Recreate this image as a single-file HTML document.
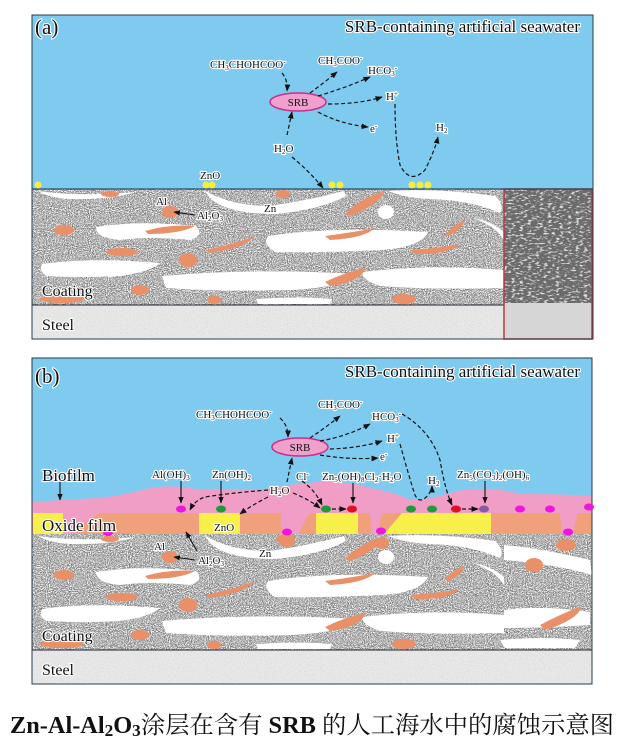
<!DOCTYPE html>
<html><head><meta charset="utf-8">
<style>
html,body{margin:0;padding:0;background:#fff;}
svg{display:block;}
.t{font-family:"Liberation Serif",serif;fill:#111;stroke:#fff;stroke-width:2.2px;paint-order:stroke;stroke-linejoin:round;}
.s{font-size:11px;}
.d{fill:none;stroke:#111;stroke-width:1.2;stroke-dasharray:4 2.5;marker-end:url(#ah);}
.a{fill:none;stroke:#111;stroke-width:1.1;marker-end:url(#ah);}
</style></head><body>
<svg width="624" height="739" viewBox="0 0 624 739" xmlns="http://www.w3.org/2000/svg">
<defs>
<marker id="ah" viewBox="0 0 10 10" refX="9" refY="5" markerWidth="6" markerHeight="6" orient="auto"><path d="M0,1 L10,5 L0,9 z" fill="#111"/></marker>
<filter id="dk" x="0" y="0" width="100%" height="100%">
<feTurbulence type="fractalNoise" baseFrequency="0.95" numOctaves="2" seed="3"/>
<feColorMatrix type="matrix" values="0 0 0 0 0.15  0 0 0 0 0.15  0 0 0 0 0.15  5 0 0 0 -2.3"/>
</filter>
<filter id="lt" x="0" y="0" width="100%" height="100%">
<feTurbulence type="fractalNoise" baseFrequency="0.95" numOctaves="2" seed="11"/>
<feColorMatrix type="matrix" values="0 0 0 0 1  0 0 0 0 1  0 0 0 0 1  5 0 0 0 -2.3"/>
</filter>
<filter id="gs" x="0" y="0" width="100%" height="100%">
<feTurbulence type="fractalNoise" baseFrequency="0.7" numOctaves="2" seed="8"/>
<feColorMatrix type="matrix" values="0 0 0 0 0.6  0 0 0 0 0.6  0 0 0 0 0.6  2 0 0 0 -0.8"/>
</filter>
<filter id="ins" x="0" y="0" width="100%" height="100%">
<feTurbulence type="fractalNoise" baseFrequency="0.25 0.6" numOctaves="2" seed="2"/>
<feColorMatrix type="matrix" values="0 0 0 0 1  0 0 0 0 1  0 0 0 0 1  5 0 0 0 -2.6"/>
</filter>
<g id="blobs">
<g fill="#fff">
<path d="M38,191 Q80,197 136,192 Q110,200 70,199 Q50,198 38,191z"/>
<path d="M204,190 Q230,206 270,206 Q310,200 344,191 L346,196 Q320,210 275,214 Q230,214 212,200z"/>
<path d="M388,191 Q440,188 495,196 Q505,205 500,213 Q470,200 430,199 Q405,198 388,191z"/>
<path d="M96,227 Q140,220 196,226 Q205,235 190,240 Q150,236 120,240 Q96,238 96,227z"/>
<path d="M268,236 Q330,226 428,232 Q420,248 380,250 Q320,253 275,252 Q262,244 268,236z"/>
<path d="M42,264 Q90,257 160,263 Q150,272 120,276 Q80,278 46,276 Q38,270 42,264z"/>
<path d="M162,276 Q250,268 358,274 Q340,288 290,290 Q220,292 166,288z"/>
<path d="M362,272 Q430,264 504,270 L504,288 Q440,290 380,286 Q362,280 362,272z"/>
<path d="M256,299 Q300,296 332,299 L330,304 L258,304z"/>
<ellipse cx="386" cy="212" rx="8" ry="7"/>
<path d="M472,218 Q495,225 504,240 L504,232 Q490,220 472,218z"/>
</g>
<g fill="#ea9068">
<ellipse cx="110" cy="194" rx="9" ry="3"/>
<ellipse cx="283" cy="194" rx="7" ry="4"/>
<path d="M345,214 Q360,198 385,191 Q378,205 350,216z"/>
<ellipse cx="170" cy="212" rx="8" ry="6"/>
<ellipse cx="64" cy="230" rx="10" ry="5"/>
<path d="M145,231 Q170,224 195,226 Q180,234 148,234z"/>
<path d="M205,250 Q235,244 255,236 Q245,248 210,253z"/>
<ellipse cx="122" cy="252" rx="16" ry="4"/>
<ellipse cx="188" cy="260" rx="9" ry="7"/>
<path d="M325,236 Q355,232 375,228 Q365,238 330,240z"/>
<path d="M445,234 Q455,224 465,220 Q462,230 448,236z"/>
<path d="M410,250 Q440,248 460,244 Q448,255 415,254z"/>
<path d="M325,282 Q345,272 366,268 Q360,282 330,286z"/>
<ellipse cx="140" cy="290" rx="9" ry="5"/>
<ellipse cx="62" cy="299" rx="22" ry="4"/>
<ellipse cx="214" cy="300" rx="7" ry="4"/>
<ellipse cx="404" cy="299" rx="12" ry="5"/>
</g>
</g>
</defs>

<!-- PANEL A -->
<rect x="32" y="15" width="561" height="174" fill="#7fcbf0"/>
<rect x="32" y="189" width="472" height="116" fill="#a2a2a2"/>
<rect x="32" y="189" width="472" height="116" filter="url(#dk)"/>
<rect x="32" y="189" width="472" height="116" filter="url(#lt)"/>
<use href="#blobs"/>
<rect x="32" y="305" width="472" height="34" fill="#e9e9e9"/>
<rect x="32" y="305" width="472" height="34" filter="url(#gs)" opacity="0.5"/>
<line x1="32" y1="305" x2="504" y2="305" stroke="#223" stroke-width="1"/>
<rect x="504" y="189" width="88" height="116" fill="#6a6a6a"/>
<rect x="504" y="189" width="88" height="116" filter="url(#ins)" opacity="0.8"/>
<rect x="504" y="303" width="88" height="36" fill="#d6d6d6"/>
<rect x="504" y="189" width="88" height="150" fill="none" stroke="#b8383f" stroke-width="1.5"/>
<line x1="32" y1="189" x2="593" y2="189" stroke="#2a4a6a" stroke-width="1.2"/>
<rect x="32" y="15" width="561" height="324" fill="none" stroke="#2a3a4a" stroke-width="1"/>
<g fill="#f4ee3c">
<circle cx="38" cy="185" r="3.5"/><circle cx="206" cy="185" r="3.5"/><circle cx="212" cy="185" r="3.5"/>
<circle cx="332" cy="185" r="3.5"/><circle cx="340" cy="185" r="3.5"/>
<circle cx="412" cy="185" r="3.5"/><circle cx="420" cy="185" r="3.5"/><circle cx="428" cy="185" r="3.5"/>
</g>
<text class="t" x="35" y="34" font-size="21">(a)</text>
<text class="t" x="580" y="32" text-anchor="end" font-size="17">SRB-containing artificial seawater</text>
<ellipse cx="298" cy="102" rx="28" ry="9" fill="#f0a0cc" stroke="#c8308a" stroke-width="1.5"/>
<text class="t s" x="298" y="106" text-anchor="middle" style="stroke:none">SRB</text>
<text class="t s" x="210" y="68">CH<tspan font-size="7" dy="2">3</tspan><tspan dy="-2">CHOHCOO</tspan><tspan font-size="7" dy="-4">-</tspan></text>
<text class="t s" x="318" y="64">CH<tspan font-size="7" dy="2">3</tspan><tspan dy="-2">COO</tspan><tspan font-size="7" dy="-4">-</tspan></text>
<text class="t s" x="368" y="74">HCO<tspan font-size="7" dy="2">3</tspan><tspan font-size="7" dy="-6">-</tspan></text>
<text class="t s" x="386" y="100">H<tspan font-size="7" dy="-4">+</tspan></text>
<text class="t s" x="370" y="132">e<tspan font-size="7" dy="-4">-</tspan></text>
<text class="t s" x="436" y="131">H<tspan font-size="7" dy="2">2</tspan></text>
<text class="t s" x="274" y="152">H<tspan font-size="7" dy="2">2</tspan><tspan dy="-2">O</tspan></text>
<text class="t s" x="200" y="179">ZnO</text>
<text class="t s" x="156" y="205">Al</text>
<text class="t s" x="197" y="219">Al<tspan font-size="7" dy="2">2</tspan><tspan dy="-2">O</tspan><tspan font-size="7" dy="2">3</tspan></text>
<text class="t s" x="264" y="212">Zn</text>
<text class="t" x="42" y="296" font-size="16">Coating</text>
<text class="t" x="42" y="330" font-size="16">Steel</text>
<path class="a" d="M195,215 L174,212"/>
<path class="d" d="M282,73 Q288,80 287,91"/>
<path class="d" d="M310,93 Q325,82 337,72"/>
<path class="d" d="M318,96 Q345,88 370,77"/>
<path class="d" d="M328,104 Q360,104 382,97"/>
<path class="d" d="M318,112 Q340,124 368,127"/>
<path class="d" d="M287,135 L292,112"/>
<path class="d" d="M292,157 Q310,172 323,188"/>
<path class="d" d="M395,104 Q395,140 400,165 Q410,185 425,170 Q435,150 438,137"/>

<!-- PANEL B -->
<rect x="32" y="358" width="560" height="155" fill="#7fcbf0"/>
<path d="M32,502 Q60,500 100,498 Q130,494 150,488 Q175,484 200,490 Q230,488 260,490 Q290,484 320,482 Q350,481 370,488 Q395,492 410,500 Q425,500 440,496 Q465,488 480,489 Q500,488 520,494 Q560,494 592,496 L592,513 L32,513z" fill="#f09ec6"/>
<rect x="32" y="513" width="560" height="21" fill="#f0a07a"/>
<g fill="#f7ef4a">
<rect x="33" y="513" width="30" height="21"/>
<rect x="199" y="513" width="41" height="21"/>
<rect x="316" y="513" width="42" height="21"/>
<path d="M402,513 L491,513 L491,534 L384,534z"/>
</g>
<g fill="#f09ec6">
<path d="M63,513 L100,513 Q85,520 75,534 L63,534z"/>
<path d="M282,513 L310,513 Q302,525 296,540 L285,540 Q278,525 282,513z"/>
<path d="M370,513 L382,513 Q378,525 380,540 L372,540z"/>
<path d="M560,513 L578,513 Q574,525 572,540 L562,540z"/>
</g>
<rect x="32" y="534" width="560" height="116" fill="#a2a2a2"/>
<rect x="32" y="534" width="560" height="116" filter="url(#dk)"/>
<rect x="32" y="534" width="560" height="116" filter="url(#lt)"/>
<use href="#blobs" transform="translate(0,345)"/>
<g fill="#fff">
<path d="M504,545 Q540,548 590,560 L592,575 Q560,565 504,560z"/>
<path d="M504,610 Q545,605 590,612 L590,625 Q545,628 504,628z"/>
<path d="M500,640 Q540,636 580,640 L575,648 L505,648z"/>
</g>
<g fill="#ea9068">
<ellipse cx="534" cy="565" rx="9" ry="7"/>
<ellipse cx="566" cy="545" rx="10" ry="6"/>
<path d="M540,625 Q565,612 582,606 Q578,620 545,630z"/>
<ellipse cx="287" cy="540" rx="8" ry="7"/>
<ellipse cx="382" cy="543" rx="7" ry="6"/>
</g>
<rect x="32" y="650" width="560" height="34" fill="#e9e9e9"/>
<rect x="32" y="650" width="560" height="34" filter="url(#gs)" opacity="0.5"/>
<line x1="32" y1="650" x2="592" y2="650" stroke="#223" stroke-width="1"/>
<rect x="32" y="358" width="560" height="326" fill="none" stroke="#2a3a4a" stroke-width="1"/>
<g>
<ellipse cx="181" cy="509" rx="5" ry="3.5" fill="#f014e0"/>
<ellipse cx="221" cy="509" rx="5" ry="3.5" fill="#1e9a3a"/>
<ellipse cx="326" cy="509" rx="5" ry="3.5" fill="#1e9a3a"/>
<ellipse cx="352" cy="509" rx="5" ry="3.5" fill="#e01020"/>
<ellipse cx="411" cy="509" rx="5" ry="3.5" fill="#1e9a3a"/>
<ellipse cx="432" cy="509" rx="5" ry="3.5" fill="#1e9a3a"/>
<ellipse cx="456" cy="509" rx="5" ry="3.5" fill="#e01020"/>
<ellipse cx="484" cy="509" rx="5" ry="3.5" fill="#8a5aa8"/>
<ellipse cx="520" cy="509" rx="5" ry="3.5" fill="#f014e0"/>
<ellipse cx="550" cy="509" rx="5" ry="3.5" fill="#f014e0"/>
<ellipse cx="589" cy="507" rx="5" ry="3.5" fill="#f014e0"/>
<ellipse cx="287" cy="532" rx="5" ry="3.5" fill="#f014e0"/>
<ellipse cx="381" cy="531" rx="5" ry="3.5" fill="#f014e0"/>
<ellipse cx="568" cy="532" rx="5" ry="3.5" fill="#f014e0"/>
<ellipse cx="108" cy="533" rx="5" ry="3" fill="#f014e0"/>
</g>
<text class="t" x="35" y="383" font-size="21">(b)</text>
<text class="t" x="580" y="377" text-anchor="end" font-size="17">SRB-containing artificial seawater</text>
<ellipse cx="300" cy="447" rx="28" ry="9" fill="#f0a0cc" stroke="#c8308a" stroke-width="1.5"/>
<text class="t s" x="300" y="451" text-anchor="middle" style="stroke:none">SRB</text>
<text class="t s" x="196" y="418">CH<tspan font-size="7" dy="2">3</tspan><tspan dy="-2">CHOHCOO</tspan><tspan font-size="7" dy="-4">-</tspan></text>
<text class="t s" x="318" y="408">CH<tspan font-size="7" dy="2">3</tspan><tspan dy="-2">COO</tspan><tspan font-size="7" dy="-4">-</tspan></text>
<text class="t s" x="372" y="420">HCO<tspan font-size="7" dy="2">3</tspan><tspan font-size="7" dy="-6">-</tspan></text>
<text class="t s" x="387" y="442">H<tspan font-size="7" dy="-4">+</tspan></text>
<text class="t s" x="380" y="460">e<tspan font-size="7" dy="-4">-</tspan></text>
<text class="t" x="42" y="481" font-size="17">Biofilm</text>
<text class="t s" x="152" y="478">Al(OH)<tspan font-size="7" dy="2">3</tspan></text>
<text class="t s" x="212" y="478">Zn(OH)<tspan font-size="7" dy="2">2</tspan></text>
<text class="t s" x="296" y="480">Cl<tspan font-size="7" dy="-4">-</tspan></text>
<text class="t s" x="322" y="480">Zn<tspan font-size="7" dy="2">5</tspan><tspan dy="-2">(OH)</tspan><tspan font-size="7" dy="2">8</tspan><tspan dy="-2">Cl</tspan><tspan font-size="7" dy="2">2</tspan><tspan dy="-2">·H</tspan><tspan font-size="7" dy="2">2</tspan><tspan dy="-2">O</tspan></text>
<text class="t s" x="428" y="484">H<tspan font-size="7" dy="2">2</tspan></text>
<text class="t s" x="457" y="478">Zn<tspan font-size="7" dy="2">5</tspan><tspan dy="-2">(CO</tspan><tspan font-size="7" dy="2">3</tspan><tspan dy="-2">)</tspan><tspan font-size="7" dy="2">2</tspan><tspan dy="-2">(OH)</tspan><tspan font-size="7" dy="2">6</tspan></text>
<text class="t s" x="270" y="494">H<tspan font-size="7" dy="2">2</tspan><tspan dy="-2">O</tspan></text>
<text class="t" x="42" y="531" font-size="17">Oxide film</text>
<text class="t s" x="214" y="531">ZnO</text>
<text class="t s" x="154" y="550">Al</text>
<text class="t s" x="198" y="564">Al<tspan font-size="7" dy="2">2</tspan><tspan dy="-2">O</tspan><tspan font-size="7" dy="2">3</tspan></text>
<text class="t s" x="259" y="557">Zn</text>
<text class="t" x="42" y="641" font-size="16">Coating</text>
<text class="t" x="42" y="675" font-size="16">Steel</text>
<path class="a" d="M60,482 L60,500"/>
<path class="a" d="M181,481 L181,503"/>
<path class="a" d="M221,481 L221,503"/>
<path class="a" d="M353,483 L353,503"/>
<path class="a" d="M485,481 L485,503"/>
<path class="a" d="M195,560 L174,557"/>
<path class="a" d="M197,551 L186,532"/>
<path class="d" d="M280,418 Q288,425 288,437"/>
<path class="d" d="M310,438 Q325,428 340,416"/>
<path class="d" d="M320,441 Q348,436 370,424"/>
<path class="d" d="M330,449 Q360,448 382,441"/>
<path class="d" d="M320,455 Q350,460 378,458"/>
<path class="d" d="M287,482 L292,458"/>
<path class="d" d="M268,490 Q230,493 205,497 Q195,500 190,510"/>
<path class="d" d="M268,497 Q252,505 240,514"/>
<path class="d" d="M293,493 Q310,500 320,508"/>
<path class="d" d="M302,481 Q315,490 322,505"/>
<path class="d" d="M332,509 L346,509"/>
<path class="d" d="M400,444 Q410,480 415,495 Q420,505 428,495 Q432,490 432,486"/>
<path class="d" d="M402,414 Q430,430 440,460 Q445,490 452,505"/>
<path class="d" d="M462,509 L478,509"/>

<!-- caption -->
<text x="10" y="733" textLength="604" lengthAdjust="spacingAndGlyphs" font-size="24" font-weight="bold" font-family="'Liberation Serif','Noto Serif CJK SC',serif" fill="#111">Zn-Al-Al<tspan font-size="17" dy="3">2</tspan><tspan dy="-3">O</tspan><tspan font-size="17" dy="3">3</tspan><tspan font-weight="normal" dy="-3">涂层在含有</tspan> SRB <tspan font-weight="normal">的人工海水中的腐蚀示意图</tspan></text>
</svg>
</body></html>
